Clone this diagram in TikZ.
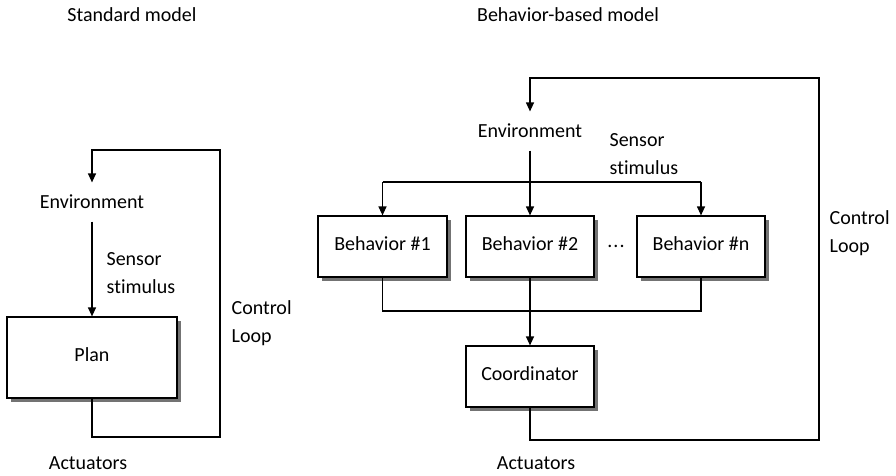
\documentclass[tikz,border=0pt]{standalone}
\usepackage{fontspec}
\setmainfont[Ligatures={NoCommon,NoDiscretionary}]{Carlito}
\usetikzlibrary{arrows.meta,shadows}
\begin{document}
\begin{tikzpicture}[x=1pt,y=-1pt,
  line width=1.2pt,
  every node/.style={font=\fontsize{20}{28}\selectfont, text=black},
  arr/.style={-{Triangle[length=9pt,width=8pt]}},
  blockbox/.style={draw, fill=white, line width=1.2pt, inner sep=0pt,
    minimum height=61pt, text depth=5pt,
    drop shadow={shadow xshift=3.5pt, shadow yshift=-3.5pt, fill=black!55, opacity=1}},
  label/.style={inner sep=0pt, minimum height=38pt},
  twoline/.style={align=left, anchor=west, inner sep=0pt}
]
\useasboundingbox (0,0) rectangle (896,475);

% ---------- Standard model ----------
\node[inner sep=0pt] (title1) at (132,15) {Standard model};
\node[label] (env1) at (92,202) {Environment};
\node[blockbox, minimum width=170pt, minimum height=81pt] (plan) at (92,357.5) {Plan};
\node[twoline] (sens1) at (106,273) {Sensor\\s\kern0pt timulus};
\node[twoline] (ctrl1) at (231,323) {Control\\Loop};
\node[inner sep=0pt] (act1) at (88,463) {Actuators};

\coordinate (l1) at (92,437);
\coordinate (l2) at (220,437);
\coordinate (l3) at (220,150);
\coordinate (l4) at (92,150);

\draw[arr] (env1.south) -- (plan.north);
\draw[arr] (plan.south) -- (l1) -- (l2) -- (l3) -- (l4) -- (env1.north);

% ---------- Behavior-based model ----------
\node[inner sep=0pt] (title2) at (568,15) {Behavior-based model};
\node[label] (env2) at (530,131) {Environment};
\node[twoline] (sens2) at (609,154.5) {Sensor\\s\kern0pt timulus};
\node[blockbox, minimum width=129pt] (b1) at (382.5,246.5) {Behavior \#1};
\node[blockbox, minimum width=128pt] (b2) at (530,246.5) {Behavior \#2};
\node[blockbox, minimum width=128pt] (bn) at (701,246.5) {Behavior \#n};
\node[inner sep=0pt] (dots) at (616,246) {.\kern1pt.\kern1pt.};
\node[blockbox, minimum width=128pt] (coord) at (530,376.5) {Coordinator};
\node[twoline] (ctrl2) at (829,233) {Control\\Loop};
\node[inner sep=0pt] (act2) at (536,463) {Actuators};

\coordinate (split) at (530,182);
\coordinate (merge) at (530,311);
\coordinate (r1) at (530,440);
\coordinate (r2) at (819,440);
\coordinate (r3) at (819,78);
\coordinate (r4) at (530,78);

% sensor stimulus fan-out
\draw[arr] (env2.south) -- (b2.north);
\draw (split -| b1) -- (split -| bn);
\draw[arr] (split -| b1) -- (b1.north);
\draw[arr] (split -| bn) -- (bn.north);

% behaviours merged into the coordinator
\draw (b1.south) -- (merge -| b1) -- (merge -| bn) -- (bn.south);
\draw[arr] (b2.south) -- (coord.north);

% control loop back to the environment
\draw[arr] (coord.south) -- (r1) -- (r2) -- (r3) -- (r4) -- (env2.north);
\end{tikzpicture}
\end{document}
